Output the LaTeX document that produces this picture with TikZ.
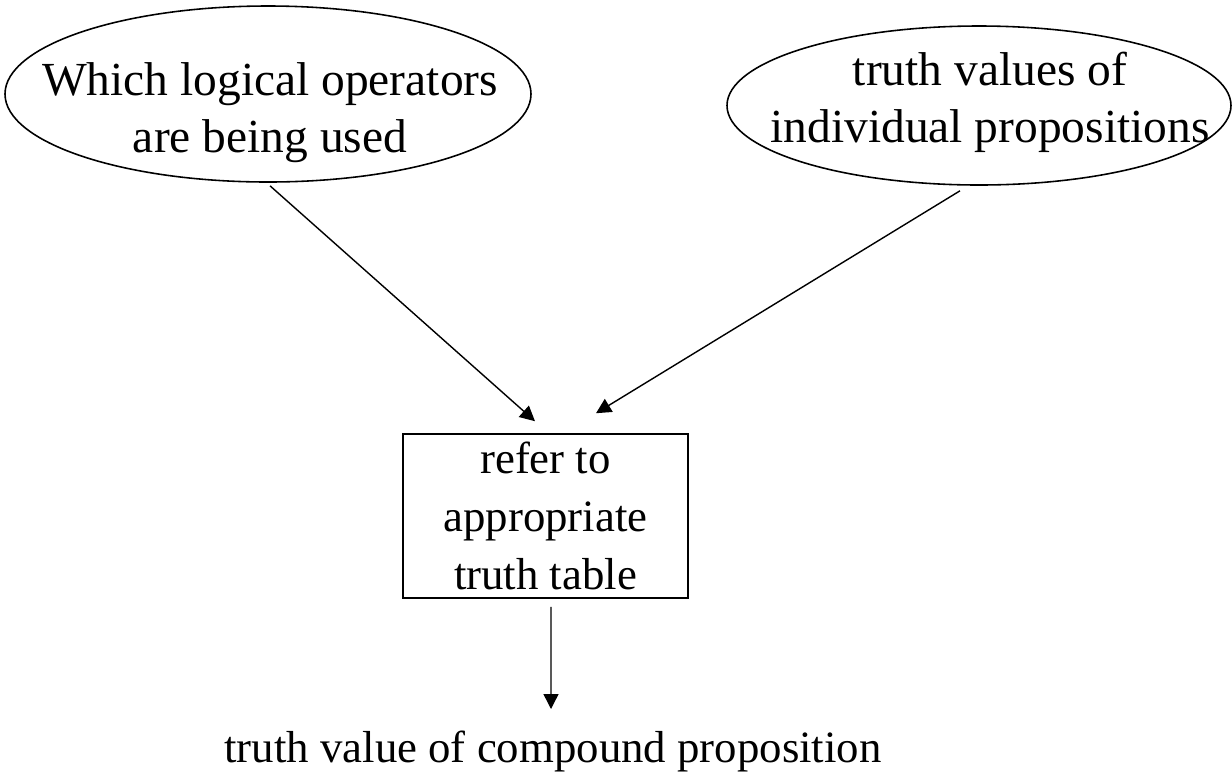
\documentclass[tikz,border=0pt]{standalone}
\usepackage{fontspec}
\setmainfont{Liberation Serif}
\usetikzlibrary{shapes.geometric,arrows.meta}

\begin{document}
\begin{tikzpicture}[
    oval/.style={draw,ellipse,inner sep=0pt,line width=0.9pt},
    lbl/.style={align=center,inner sep=0pt,anchor=base,font=\fontsize{25.5}{33}\selectfont},
    ovallbl/.style={lbl,font=\fontsize{27}{32}\selectfont},
    arr/.style={line width=0.8pt,-{Triangle[length=0.3cm,width=0.3cm]}}]
                \useasboundingbox (0,0) rectangle (24.64,-15.46);
                \node[oval,minimum width=10.52cm,minimum height=3.52cm] (opsoval) at (5.36,-1.88) {};
                \node[ovallbl] (ops) at (5.4,-3.04) {Which logical operators\\are being used};
                \node[oval,minimum width=10.08cm,minimum height=3.18cm] (valsoval) at (19.58,-2.11) {};
                \node[ovallbl] (vals) at (19.8,-2.84) {truth values of\\individual propositions};
                \node[draw,line width=0.9pt,minimum width=5.7cm,minimum height=3.28cm,inner sep=0pt,
                      align=center,font=\fontsize{25.5}{33}\selectfont] (table) at (10.91,-10.32)
                      {refer to\\appropriate\\truth table};
                \node[lbl] (result) at (11.06,-15.24) {truth value of compound proposition};
                \draw[arr] ([shift={(0.04,-0.06)}]opsoval.south) -- ([shift={(-0.21,0.24)}]table.north);
                \draw[arr] ([shift={(-0.38,-0.1)}]valsoval.south) -- ([shift={(1.01,0.4)}]table.north);
                \draw[arr] ([shift={(0.11,-0.16)}]table.south) -- ([shift={(-0.04,1.06)}]result.base);
            \end{tikzpicture}
\end{document}
